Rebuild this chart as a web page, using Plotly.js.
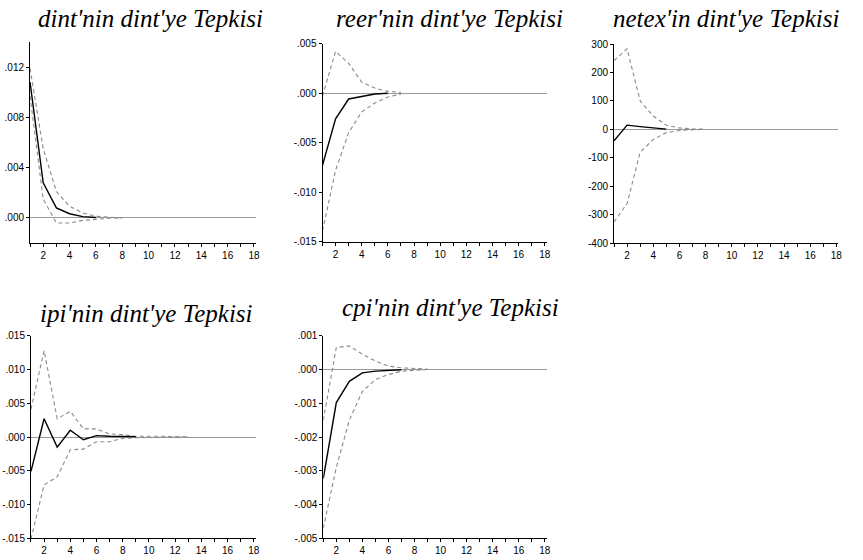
<!DOCTYPE html>
<html>
<head>
<meta charset="utf-8">
<script src="https://cdn.plot.ly/plotly-3.0.1.min.js"></script>
<style>html,body{margin:0;padding:0;background:#fff;}#chart{width:863px;height:560px;}</style>
</head>
<body>
<div id="chart"></div>
<script>
// Periods and tick labels
const periods = [1,2,3,4,5,6,7,8,9,10,11,12,13,14,15,16,17,18];
const xTickText = ['','2','','4','','6','','8','','10','','12','','14','','16','','18'];

// Titles
const titles = ["dint'nin dint'ye Tepkisi", "reer'nin dint'ye Tepkisi", "netex'in dint'ye Tepkisi",
                "ipi'nin dint'ye Tepkisi", "cpi'nin dint'ye Tepkisi"];

// dint response to dint
const dintResp  = [0.0108, 0.0028, 0.0008, 0.00033, 0.0001, 0.00003];
const dintUpper = [0.0119, 0.0055, 0.0021, 0.00093, 0.0004, 0.00013, 0.00005, 0.00001];
const dintLower = [0.0097, 0.0015, -0.0004, -0.0004, -0.0002, -0.0001, -0.00003, 0];
const dintTickVals = [0, 0.004, 0.008, 0.012];
const dintTickText = ['.000', '.004', '.008', '.012'];

// reer response to dint
const reerResp  = [-0.0073, -0.0026, -0.0006, -0.00034, -0.0001, -0.00002];
const reerUpper = [-0.0003, 0.0042, 0.0030, 0.0011, 0.0005, 0.00017, 0.00007];
const reerLower = [-0.0139, -0.0078, -0.0040, -0.0019, -0.0010, -0.0004, -0.0001];
const reerTickVals = [-0.015, -0.010, -0.005, 0, 0.005];
const reerTickText = ['-.015', '-.010', '-.005', '.000', '.005'];

// netex response to dint
const netexResp  = [-40, 15, 10, 5, 1];
const netexUpper = [242, 283, 100, 47, 15, 5, 2, 1];
const netexLower = [-325, -260, -80, -35, -11, -4, -1, 0];
const netexTickVals = [-400, -300, -200, -100, 0, 100, 200, 300];
const netexTickText = ['-400', '-300', '-200', '-100', '0', '100', '200', '300'];

// ipi response to dint
const ipiResp  = [-0.0051, 0.0027, -0.0015, 0.0010, -0.0004, 0.0002, 0.0001, 0.0001, 0.00005];
const ipiUpper = [0.0041, 0.0128, 0.0027, 0.0038, 0.0012, 0.0012, 0.00045, 0.00035, 0.0001, 0.00015, 0.0001, 0.00005, 0.00003];
const ipiLower = [-0.0151, -0.0071, -0.0059, -0.0019, -0.0018, -0.0007, -0.0007, -0.0002, -0.0001, -0.00005, -0.00003, 0, 0];
const ipiTickVals = [-0.015, -0.010, -0.005, 0, 0.005, 0.010, 0.015];
const ipiTickText = ['-.015', '-.010', '-.005', '.000', '.005', '.010', '.015'];

// cpi response to dint
const cpiResp  = [-0.00323, -0.00098, -0.00035, -0.0001, -0.00005, -0.00002, -0.00001];
const cpiUpper = [-0.0015, 0.00065, 0.0007, 0.00045, 0.00025, 0.0001, 0.00005, 0.00002, 0.00001];
const cpiLower = [-0.0047, -0.0029, -0.0015, -0.00065, -0.0003, -0.00015, -0.00005, -0.00002, 0];
const cpiTickVals = [-0.005, -0.004, -0.003, -0.002, -0.001, 0, 0.001];
const cpiTickText = ['-.005', '-.004', '-.003', '-.002', '-.001', '.000', '.001'];

const panels = [
  {resp: dintResp, up: dintUpper, lo: dintLower, tv: dintTickVals, tt: dintTickText, range: [-0.002, 0.014],
   xd: [0.0348, 0.2966], yd: [0.566, 0.925], tx: 150, ty: 18},
  {resp: reerResp, up: reerUpper, lo: reerLower, tv: reerTickVals, tt: reerTickText, range: [-0.015, 0.005],
   xd: [0.3737, 0.6335], yd: [0.5684, 0.9223], tx: 449, ty: 18},
  {resp: netexResp, up: netexUpper, lo: netexLower, tv: netexTickVals, tt: netexTickText, range: [-400, 300],
   xd: [0.7115, 0.9714], yd: [0.5655, 0.9214], tx: 726, ty: 18},
  {resp: ipiResp, up: ipiUpper, lo: ipiLower, tv: ipiTickVals, tt: ipiTickText, range: [-0.015, 0.015],
   xd: [0.0359, 0.2963], yd: [0.0388, 0.4005], tx: 146, ty: 313},
  {resp: cpiResp, up: cpiUpper, lo: cpiLower, tv: cpiTickVals, tt: cpiTickText, range: [-0.005, 0.001],
   xd: [0.3746, 0.6335], yd: [0.0388, 0.4005], tx: 450, ty: 307}
];

const tickFont = {family: '"Liberation Sans Narrow", "Liberation Sans", Arial, sans-serif', size: 10, color: '#000'};
const traces = [];
const layout = {
  width: 863, height: 560,
  margin: {l: 0, r: 0, t: 0, b: 0},
  paper_bgcolor: '#fff', plot_bgcolor: '#fff',
  showlegend: false,
  annotations: []
};

panels.forEach((p, i) => {
  const n = i + 1;
  const xa = n === 1 ? 'x' : 'x' + n;
  const ya = n === 1 ? 'y' : 'y' + n;
  const dashStyle = {color: '#8a8a8a', width: 1.1, dash: '4px,3px'};
  traces.push({x: periods.slice(0, p.up.length), y: p.up, xaxis: xa, yaxis: ya, mode: 'lines', line: dashStyle, hoverinfo: 'skip'});
  traces.push({x: periods.slice(0, p.lo.length), y: p.lo, xaxis: xa, yaxis: ya, mode: 'lines', line: dashStyle, hoverinfo: 'skip'});
  traces.push({x: periods.slice(0, p.resp.length), y: p.resp, xaxis: xa, yaxis: ya, mode: 'lines', line: {color: '#000', width: 1.4}, hoverinfo: 'skip'});

  layout['xaxis' + (n === 1 ? '' : n)] = {
    domain: p.xd, anchor: ya, range: [1, 18.15],
    showline: true, linecolor: '#000', linewidth: 1,
    ticks: 'outside', ticklen: 3, tickcolor: '#000', tickwidth: 1,
    tickmode: 'array', tickvals: periods, ticktext: xTickText,
    tickfont: tickFont, showgrid: false, zeroline: false, fixedrange: true
  };
  layout['yaxis' + (n === 1 ? '' : n)] = {
    domain: p.yd, anchor: xa, range: p.range,
    showline: true, linecolor: '#000', linewidth: 1,
    ticks: 'outside', ticklen: 3, tickcolor: '#000', tickwidth: 1,
    tickmode: 'array', tickvals: p.tv, ticktext: p.tt,
    tickfont: tickFont, showgrid: false,
    zeroline: true, zerolinecolor: '#9a9a9a', zerolinewidth: 1, fixedrange: true
  };
  layout.annotations.push({
    text: titles[i], xref: 'paper', yref: 'paper',
    x: p.tx / 863, y: 1 - p.ty / 560, xanchor: 'center', yanchor: 'middle',
    showarrow: false,
    font: {family: '"Liberation Serif", "Times New Roman", serif', size: 25, color: '#000', style: 'italic'}
  });
});

Plotly.newPlot('chart', traces, layout, {staticPlot: true, displayModeBar: false});
</script>
</body>
</html>
